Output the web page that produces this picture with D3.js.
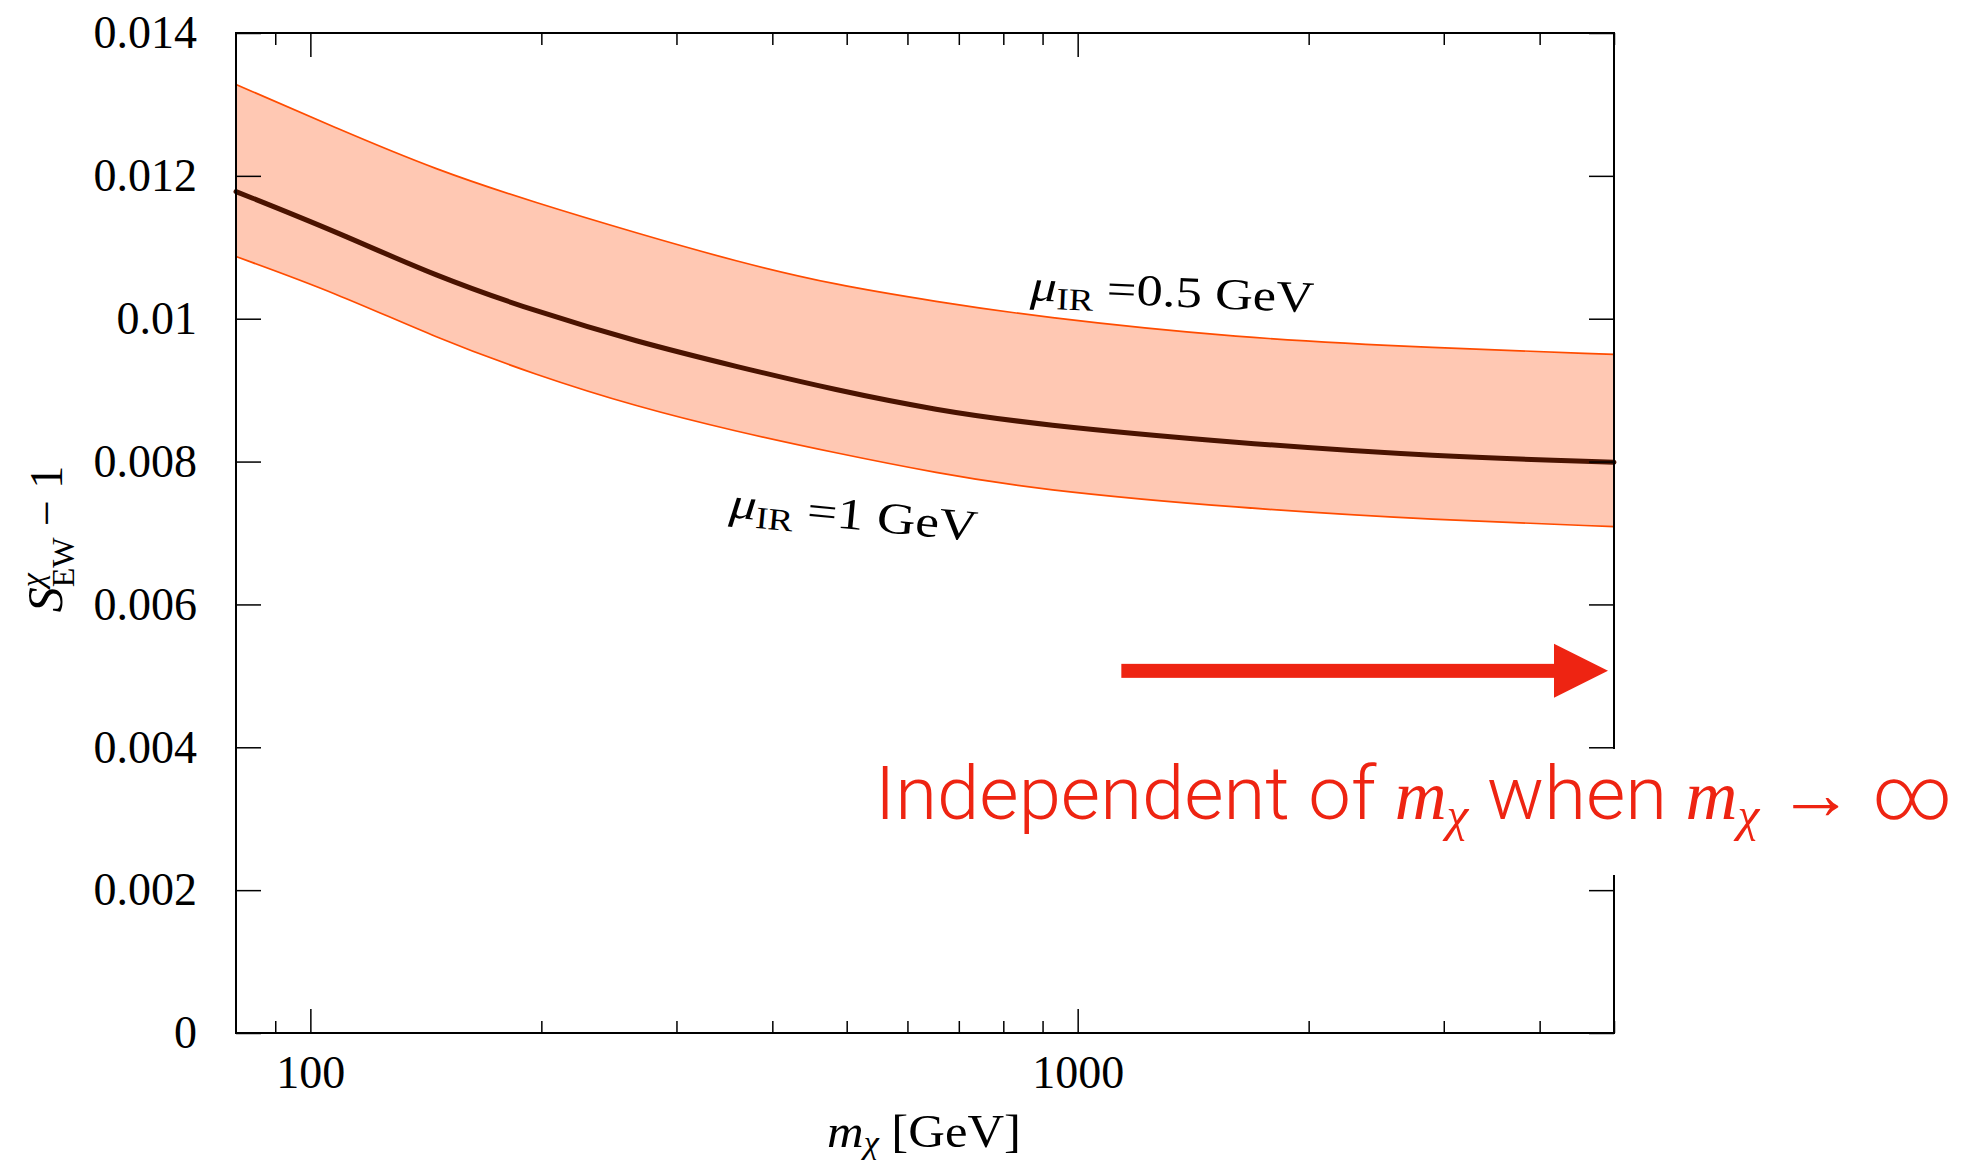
<!DOCTYPE html>
<html>
<head>
<meta charset="utf-8" />
<script src="https://d3js.org/d3.v7.min.js"></script>
<style>
  body { margin: 0; background: #fff; }
  .tick text { font-family: "Liberation Serif", serif; font-size: 46px; fill: #000; }
  .tick line { stroke: #000; stroke-width: 1.5px; }
  .domain { display: none; }
</style>
</head>
<body>
<svg id="chart" width="1969" height="1162"></svg>
<script>
// values (m in GeV)
var mass    = [80, 108, 146, 197, 266, 359, 484, 654, 882, 1608, 2931, 5000];
var upper   = [0.01328, 0.01267, 0.01208, 0.01162, 0.01120, 0.01080, 0.01047, 0.01024, 0.01003, 0.00973, 0.00959, 0.00950];
var central = [0.01178, 0.01122, 0.01059, 0.01010, 0.00968, 0.00933, 0.00900, 0.00872, 0.00852, 0.00826, 0.00807, 0.00799];
var lower   = [0.01087, 0.01036, 0.00973, 0.00921, 0.00877, 0.00842, 0.00812, 0.00784, 0.00761, 0.00735, 0.00718, 0.00709];

var xMajor = [100, 1000];
var xMajorLabels = ["100", "1000"];
var xMinor = [90, 200, 300, 400, 500, 600, 700, 800, 900, 2000, 3000, 4000, 5000];
var yTicks = [0, 0.002, 0.004, 0.006, 0.008, 0.01, 0.012, 0.014];
var yLabels = ["0", "0.002", "0.004", "0.006", "0.008", "0.01", "0.012", "0.014"];

var red = "#ee2412";
var svg = d3.select("#chart");

var x = d3.scaleLog().domain([80, 5000]).range([236, 1614]);
var y = d3.scaleLinear().domain([0, 0.014]).range([1033, 33]);

var rows = mass.map(function(m, i) {
  return { m: m, hi: upper[i], mid: central[i], lo: lower[i] };
});

var curve = d3.curveBasis;

// band
svg.append("path")
  .datum(rows)
  .attr("fill", "#ffc8b3")
  .attr("d", d3.area()
    .x(function(d) { return x(d.m); })
    .y0(function(d) { return y(d.lo); })
    .y1(function(d) { return y(d.hi); })
    .curve(curve));

["hi", "lo"].forEach(function(k) {
  svg.append("path")
    .datum(rows)
    .attr("fill", "none")
    .attr("stroke", "#ff4c00")
    .attr("stroke-width", 1.7)
    .attr("d", d3.line()
      .x(function(d) { return x(d.m); })
      .y(function(d) { return y(d[k]); })
      .curve(curve));
});

svg.append("path")
  .datum(rows)
  .attr("fill", "none")
  .attr("stroke", "#4a1300")
  .attr("stroke-width", 5)
  .attr("stroke-linecap", "round")
  .attr("d", d3.line()
    .x(function(d) { return x(d.m); })
    .y(function(d) { return y(d.mid); })
    .curve(curve));

// axes, ticks all inward
svg.append("g").attr("transform", "translate(0,1033)")
  .call(d3.axisBottom(x).tickValues(xMajor).tickFormat(function(d, i) { return xMajorLabels[i]; })
    .tickSize(-24).tickPadding(22));
svg.append("g").attr("transform", "translate(0,1033)")
  .call(d3.axisBottom(x).tickValues(xMinor).tickFormat("").tickSize(-12));
svg.append("g").attr("transform", "translate(0,33)")
  .call(d3.axisTop(x).tickValues(xMajor).tickFormat("").tickSize(-24));
svg.append("g").attr("transform", "translate(0,33)")
  .call(d3.axisTop(x).tickValues(xMinor).tickFormat("").tickSize(-12));
svg.append("g").attr("transform", "translate(236,0)")
  .call(d3.axisLeft(y).tickValues(yTicks).tickFormat(function(d, i) { return yLabels[i]; })
    .tickSize(-25).tickPadding(39));
svg.append("g").attr("transform", "translate(1614,0)")
  .call(d3.axisRight(y).tickValues(yTicks).tickFormat("").tickSize(-25));

svg.append("rect")
  .attr("x", 236).attr("y", 33)
  .attr("width", 1378).attr("height", 1000)
  .attr("fill", "none").attr("stroke", "#000").attr("stroke-width", 2);

// stretch a text horizontally to a given width, keeping its left edge
function fitWidth(sel, left, target) {
  var w = sel.node().getBBox().width;
  var s = target / w;
  var old = sel.attr("transform") || "";
  sel.attr("transform", "translate(" + left + ",0) scale(" + s + ",1) translate(" + (-left) + ",0) " + old);
}

// y label
var yl = svg.append("text")
  .attr("transform", "translate(62,539) rotate(-90)")
  .attr("text-anchor", "middle")
  .style("font-family", "Liberation Serif")
  .style("font-size", "46px");
yl.append("tspan").style("font-style", "italic").style("font-size", "50px").text("S");
var chi = yl.append("tspan").attr("dy", -19).style("font-size", "32px").style("font-style", "italic").text("χ");
var ew = yl.append("tspan").attr("dy", 31).style("font-size", "32px").text("EW");
yl.append("tspan").attr("dy", -12).text(" − 1");
ew.attr("dx", -chi.node().getComputedTextLength());

// x label
var xl = svg.append("text")
  .attr("x", 827).attr("y", 1147)
  .style("font-family", "Liberation Serif")
  .style("font-size", "46px");
xl.append("tspan").style("font-style", "italic").text("m");
xl.append("tspan").attr("dy", 6).style("font-size", "31px").style("font-style", "italic").text("χ");
xl.append("tspan").attr("dy", -6).text(" [GeV]");
fitWidth(xl, 827, 194);

// mu_IR labels
function muLabel(m, v, angle, value, width) {
  var g = svg.append("g")
    .attr("transform", "translate(" + x(m) + "," + y(v) + ") rotate(" + angle + ")");
  var t = g.append("text")
    .style("font-family", "Liberation Serif")
    .style("font-size", "44px");
  t.append("tspan").style("font-style", "italic").text("μ");
  t.append("tspan").attr("dy", 8).style("font-size", "31px").text("IR");
  t.append("tspan").attr("dy", -8).text(" =" + value + " GeV");
  fitWidth(t, 0, width);
}
muLabel(867, 0.01026, 2.5, "0.5", 285);
muLabel(351, 0.00722, 5.5, "1", 250);

// arrow
var ay = y(0.00507);
var tip = x.range()[1] - 6;
svg.append("rect")
  .attr("x", x(1140)).attr("y", ay - 7)
  .attr("width", tip - 54 - x(1140) + 1).attr("height", 14)
  .attr("fill", red);
svg.append("path")
  .attr("d", "M" + (tip - 54) + "," + (ay - 27) + "L" + tip + "," + ay + "L" + (tip - 54) + "," + (ay + 27) + "Z")
  .attr("fill", red);

// note with white background over the right axis
svg.append("rect")
  .attr("x", 865).attr("y", 749)
  .attr("width", 1100).attr("height", 126)
  .attr("fill", "#fff");
var note = svg.append("text")
  .attr("x", 875).attr("y", 819)
  .attr("fill", red)
  .style("font-family", "Roboto")
  .style("font-weight", 300)
  .style("font-size", "74px");
note.append("tspan").text("Independent of ");
note.append("tspan").style("font-family", "Liberation Serif").style("font-style", "italic").style("font-size", "70px").text("m");
note.append("tspan").attr("dy", 12).style("font-family", "Liberation Serif").style("font-style", "italic").style("font-size", "48px").text("χ");
note.append("tspan").attr("dy", -12).text(" when ");
note.append("tspan").style("font-family", "Liberation Serif").style("font-style", "italic").style("font-size", "70px").text("m");
note.append("tspan").attr("dy", 12).style("font-family", "Liberation Serif").style("font-style", "italic").style("font-size", "48px").text("χ");
note.append("tspan").attr("dy", -12).text(" → ∞");
fitWidth(note, 875, 1078);
</script>
</body>
</html>
